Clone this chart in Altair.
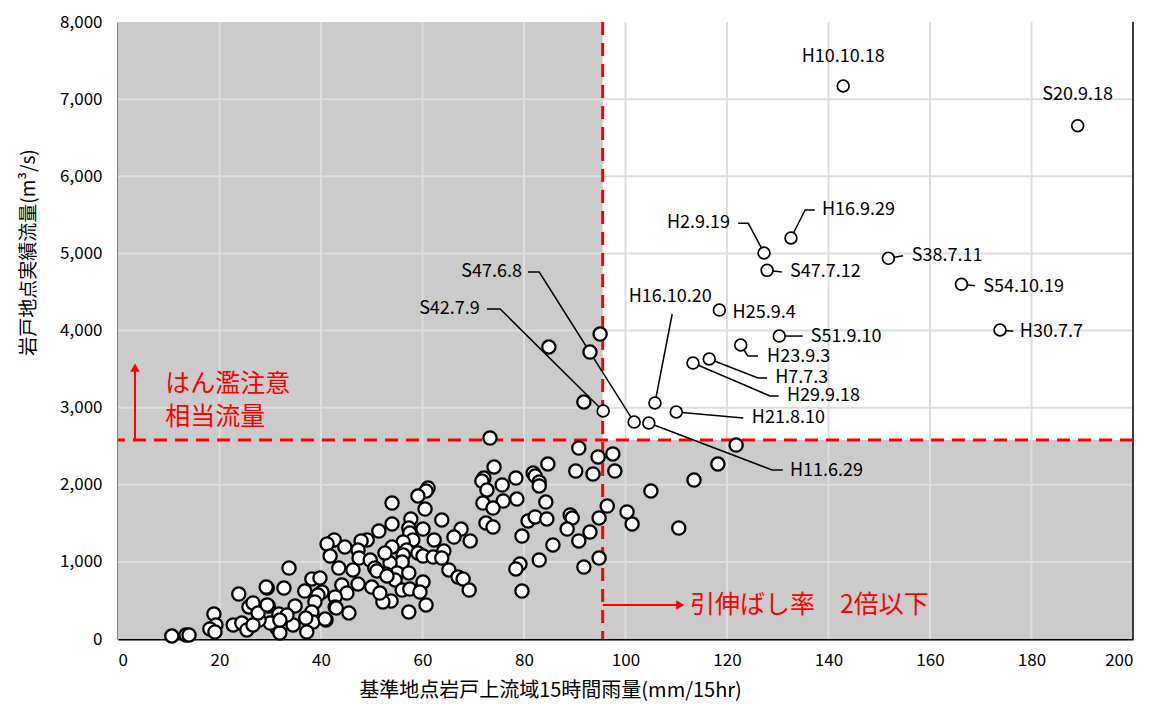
import altair as alt
import pandas as pd

# ---------------- data ----------------
# unlabelled events: rainfall (mm/15hr), discharge (m3/s)
rain = [
    95.0, 93.0, 84.9, 91.8,
    121.8, 118.2, 113.5, 105.0, 110.5, 101.3, 100.3, 97.5, 97.9, 96.4,
    90.8, 94.6, 90.2, 93.6, 94.8, 93.0, 90.8, 94.8, 91.8,
    84.7, 81.8, 82.2, 83.0, 83.0, 78.4, 78.6, 84.3, 80.8, 82.2, 84.5, 89.1, 89.5, 88.5, 85.7, 79.6, 83.0, 79.2, 78.4, 79.6,
    73.3, 74.1, 72.1, 71.7, 75.7, 72.7, 75.9, 71.9, 73.9, 72.5, 73.9,
    61.1, 60.7, 59.1, 54.0, 60.5, 57.7, 63.8, 54.0, 57.3, 60.1, 67.6, 66.2, 69.4, 62.3, 57.5, 58.1, 56.2, 54.0, 56.9, 56.2,
    59.1, 60.1, 62.1, 64.2, 63.8, 65.2, 67.0, 68.0, 69.2, 56.0, 53.6, 55.0, 57.3, 54.6, 60.1, 56.0, 57.5, 59.5, 53.8, 60.7,
    57.3, 52.8, 52.2,
    51.4, 49.1, 47.9, 42.6, 41.2, 44.7, 47.3, 52.6, 41.8, 47.5, 49.7, 43.5, 46.3, 50.6, 51.0, 53.0, 44.1, 47.3, 50.0, 51.6,
    45.1, 42.8, 42.8, 45.5,
    33.7, 38.2, 39.8, 32.7, 29.4, 36.8, 40.2, 39.4, 38.8, 34.9, 38.2, 41.0, 38.4, 31.7, 29.6, 34.5, 31.3, 31.9, 37.2, 30.0,
    33.3, 37.0, 40.8, 43.0, 31.9,
    10.6, 13.4, 14.0, 18.9, 19.3, 18.1, 19.1, 22.7, 23.8, 25.8, 26.6, 29.2, 24.4, 25.4, 27.8, 26.6, 27.6, 29.4,
]
flow = [
    3954, 3721, 3786, 3073,
    2515, 2269, 2061, 1919, 1439, 1491, 1647, 2399, 2178, 1724,
    2476, 2360, 2178, 2139, 1569, 1387, 1271, 1050, 933,
    2269, 2152, 2113, 2035, 1984, 2087, 1815, 1776, 1530, 1582, 1556, 1608, 1569, 1426, 1219, 1335, 1024, 972, 908, 622,
    2606, 2230, 2087, 2048, 1997, 1932, 1789, 1763, 1698, 1504, 1452,
    1958, 1919, 1854, 1763, 1685, 1556, 1543, 1491, 1439, 1426, 1426, 1322, 1271, 1284, 1374, 1284, 1258, 1193, 1154, 1089,
    1115, 1076, 1063, 1141, 1050, 895, 804, 778, 635, 998, 985, 856, 856, 765, 739, 635, 648, 609, 493, 441,
    350, 843, 480,
    1400, 1284, 1271, 1284, 1232, 1193, 1154, 1115, 1076, 1050, 1024, 920, 895, 920, 882, 817, 700, 713, 674, 596,
    596, 545, 415, 337,
    920, 778, 791, 661, 661, 622, 609, 570, 480, 428, 350, 246, 220, 324, 428, 182, 143, 78, 91, 207,
    311, 272, 259, 402, 246,
    39, 52, 52, 324, 182, 130, 91, 182, 583, 415, 467, 674, 207, 117, 246, 182, 337, 441,
]

# labelled events
ev_name = ["H10.10.18", "S20.9.18", "H16.9.29", "H2.9.19", "S47.7.12", "S38.7.11", "S54.10.19",
           "H30.7.7", "H25.9.4", "S51.9.10", "H23.9.3", "H7.7.3", "H29.9.18", "H16.10.20",
           "H21.8.10", "S47.6.8", "S42.7.9", "H11.6.29"]
ev_rain = [142.9, 189.1, 132.6, 127.3, 127.9, 151.8, 166.2, 173.8, 118.5, 130.3, 122.7, 116.5,
           113.3, 105.8, 110.0, 101.7, 95.6, 104.6]
ev_flow = [7170, 6655, 5199, 5005, 4780, 4936, 4599, 4006, 4265, 3928, 3812, 3630, 3578, 3060,
           2943, 2813, 2956, 2800]

# label text placement
lab_x = [142.9, 189.1, 138.7, 120.6, 132.4, 156.4, 170.5, 177.7, 121.1, 136.5, 127.9, 129.5,
         131.8, 108.8, 124.9, 79.6, 71.3, 132.4]
lab_y = [7545, 7053, 5562, 5390, 4760, 4970, 4568, 3984, 4230, 3920, 3656, 3384, 3150, 4434,
         2865, 4758, 4278, 2178]
lab_align = ["center", "center", "left", "right", "left", "left", "left", "left", "left", "left",
             "left", "left", "left", "center", "left", "right", "right", "left"]

# leader lines (label, order, x, y)
ld_name = ["H16.9.29"] * 3 + ["H2.9.19"] * 3 + ["S47.7.12"] * 2 + ["S38.7.11"] * 2 + \
          ["S54.10.19"] * 2 + ["H30.7.7"] * 2 + ["S51.9.10"] * 2 + ["H23.9.3"] * 3 + \
          ["H7.7.3"] * 3 + ["H29.9.18"] * 3 + ["H16.10.20"] * 2 + ["H21.8.10"] * 2 + \
          ["S47.6.8"] * 3 + ["S42.7.9"] * 3 + ["H11.6.29"] * 3
ld_order = [0, 1, 2, 0, 1, 2, 0, 1, 0, 1, 0, 1, 0, 1, 0, 1, 0, 1, 2, 0, 1, 2, 0, 1, 2, 0, 1,
            0, 1, 0, 1, 2, 0, 1, 2, 0, 1, 2]
ld_x = [132.6, 135.4, 137.3, 127.3, 124.2, 122.2, 127.9, 130.8, 151.8, 154.7, 166.2, 168.9,
        173.8, 176.4, 130.3, 134.9, 122.7, 124.1, 126.1, 116.5, 126.1, 127.9, 113.3, 128.5, 130.2,
        105.8, 109.2, 110.0, 123.2, 101.7, 83.0, 80.8, 95.6, 75.3, 72.7, 104.6, 128.9, 131.0]
ld_y = [5199, 5562, 5562, 5005, 5390, 5390, 4780, 4760, 4936, 4970, 4599, 4580, 4006, 3990,
        3928, 3928, 3812, 3669, 3669, 3630, 3384, 3384, 3578, 3150, 3150, 3060, 4214, 2943, 2865,
        2813, 4758, 4758, 2956, 4278, 4278, 2800, 2191, 2191]

# thresholds
flood_flow = 2580
ratio_rain = 95.5

x_ticks = [0, 20, 40, 60, 80, 100, 120, 140, 160, 180, 200]
y_ticks = [0, 1000, 2000, 3000, 4000, 5000, 6000, 7000, 8000]
grid_x = [20, 40, 60, 80, 100, 120, 140, 160, 180]
grid_y = [1000, 2000, 3000, 4000, 5000, 6000, 7000]

FONT = "Noto Sans CJK JP"

# ---------------- scales / axes ----------------
xs = alt.Scale(domain=[0, 200], nice=False)
ys = alt.Scale(domain=[0, 8000], nice=False)

x_axis = alt.Axis(values=x_ticks, grid=False, ticks=False, domainColor="black",
                  domainWidth=2, labelFontSize=17, labelColor="black", labelPadding=13,
                  title="基準地点岩戸上流域15時間雨量(mm/15hr)", titleFontSize=20,
                  titleFontWeight="normal", titleColor="black", titleX=432, titleY=51,
                  titleBaseline="middle")
y_axis = alt.Axis(values=y_ticks, grid=False, ticks=False, domainColor="black",
                  domainWidth=2, labelFontSize=17, labelColor="black", labelPadding=16,
                  labelExpr="format(datum.value, ',')",
                  title="岩戸地点実績流量(m³/s)", titleFontSize=19,
                  titleFontWeight="normal", titleColor="black", titleX=-90, titleY=230,
                  titleBaseline="middle", titleAlign="center")


def X(f):
    return alt.X(f, type="quantitative", scale=xs, axis=x_axis)


def Y(f):
    return alt.Y(f, type="quantitative", scale=ys, axis=y_axis)


# shaded areas
shade_df = pd.DataFrame({"x": [0, ratio_rain], "x2": [ratio_rain, 200],
                         "y": [0, 0], "y2": [8000, flood_flow]})
shade = alt.Chart(shade_df).mark_rect(color="#cbcbcb").encode(
    x=X("x"), x2="x2", y=Y("y"), y2="y2")

gx = alt.Chart(pd.DataFrame({"g": grid_x})).mark_rule(color="#dedede", strokeWidth=2).encode(x=X("g"))
gy = alt.Chart(pd.DataFrame({"g": grid_y})).mark_rule(color="#dedede", strokeWidth=2).encode(y=Y("g"))

right_border = alt.Chart(pd.DataFrame({"x": [200]})).mark_rule(color="black", strokeWidth=1.5).encode(x=X("x"))

# red dashed threshold lines
hline = alt.Chart(pd.DataFrame({"y": [flood_flow]})).mark_rule(
    color="#ff0000", strokeWidth=3, strokeDash=[13, 8]).encode(y=Y("y"))
vline = alt.Chart(pd.DataFrame({"x": [ratio_rain]})).mark_rule(
    color="#ff0000", strokeWidth=3, strokeDash=[13, 8]).encode(x=X("x"))

# leader lines
ld_df = pd.DataFrame({"name": ld_name, "o": ld_order, "x": ld_x, "y": ld_y})
leaders = alt.Chart(ld_df).mark_line(color="black", strokeWidth=1.5).encode(
    x=X("x"), y=Y("y"), detail="name:N", order="o:Q")

# points
pts_df = pd.DataFrame({"x": rain, "y": flow})
pts = alt.Chart(pts_df).mark_point(shape="circle", filled=False, fill="white", fillOpacity=1,
                                   stroke="black", strokeWidth=2.3, size=175, opacity=1).encode(
    x=X("x"), y=Y("y"))
ev_df = pd.DataFrame({"x": ev_rain, "y": ev_flow})
ev_pts = alt.Chart(ev_df).mark_point(shape="circle", filled=False, fill="white", fillOpacity=1,
                                     stroke="black", strokeWidth=1.7, size=140, opacity=1).encode(
    x=X("x"), y=Y("y"))

# labels
lab_df = pd.DataFrame({"t": ev_name, "x": lab_x, "y": lab_y, "a": lab_align})
labels = []
for a in ["left", "right", "center"]:
    labels.append(alt.Chart(lab_df).transform_filter(alt.datum.a == a).mark_text(
        align=a, baseline="middle", fontSize=18, font=FONT, color="black").encode(
        x=X("x"), y=Y("y"), text="t:N"))

# red annotations
up_arrow = alt.Chart(pd.DataFrame({"x": [3.35], "y": [flood_flow], "y2": [3480]})).mark_rule(
    color="#ff0000", strokeWidth=2).encode(x=X("x"), y=Y("y"), y2="y2")
up_head = alt.Chart(pd.DataFrame({"x": [3.35], "y": [3520]})).mark_point(
    shape="triangle-up", filled=True, color="#ff0000", size=90, opacity=1).encode(x=X("x"), y=Y("y"))
rt_arrow = alt.Chart(pd.DataFrame({"x": [ratio_rain], "x2": [110.2], "y": [441]})).mark_rule(
    color="#ff0000", strokeWidth=2).encode(x=X("x"), x2="x2", y=Y("y"))
rt_head = alt.Chart(pd.DataFrame({"x": [110.8], "y": [441]})).mark_point(
    shape="triangle-right", filled=True, color="#ff0000", size=90, opacity=1).encode(x=X("x"), y=Y("y"))

note_df = pd.DataFrame({"t": ["はん濫注意", "相当流量", "引伸ばし率　2倍以下"],
                        "x": [9.3, 9.3, 112.7], "y": [3306, 2878, 441]})
notes = alt.Chart(note_df).mark_text(align="left", baseline="middle", fontSize=25, font=FONT,
                                     color="#ff0000").encode(x=X("x"), y=Y("y"), text="t:N")

chart = alt.layer(
    shade, gx, gy, right_border, hline, vline, leaders, pts, ev_pts, *labels,
    up_arrow, up_head, rt_arrow, rt_head, notes
).properties(
    width=1015, height=617,
    autosize=alt.AutoSizeParams(type="none"),
    padding={"left": 110, "top": 14, "right": 12, "bottom": 66},
).configure(font=FONT).configure_view(stroke=None)

chart.save("out.html", embed_options={"renderer": "svg", "actions": False})
